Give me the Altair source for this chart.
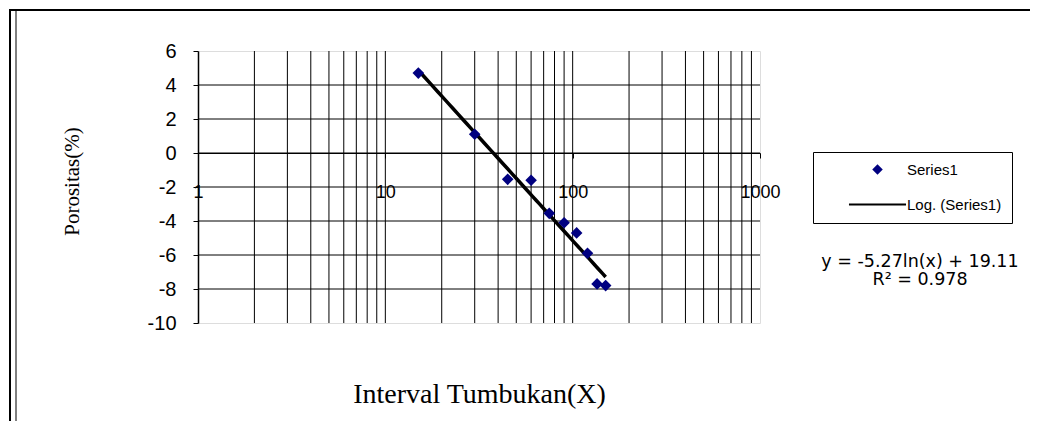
import altair as alt
import pandas as pd

# ---- data ----
interval_x = [15, 30, 45, 60, 75, 90, 105, 120, 135, 150]
porositas_y = [4.7, 1.1, -1.55, -1.6, -3.55, -4.1, -4.7, -5.9, -7.7, -7.8]
series_names = ["Series1", "Log. (Series1)"]
x_tick_values = [1, 10, 100, 1000]
x_grid_values = [2, 3, 4, 5, 6, 7, 8, 9, 10, 20, 30, 40, 50, 60, 70, 80, 90,
                 100, 200, 300, 400, 500, 600, 700, 800, 900]
y_tick_values = [-10, -8, -6, -4, -2, 0, 2, 4, 6]
y_grid_values = [-8, -6, -4, -2, 0, 2, 4]
equation_lines = ["y = -5.27ln(x) + 19.11", "R\u00b2 = 0.978"]

# ---- layout ----
W, H = 562, 272
Y_MIN, Y_MAX = -10, 6
axis_offset = -H * (0 - Y_MIN) / (Y_MAX - Y_MIN)  # x axis crosses at y = 0

df = pd.DataFrame({"x": interval_x, "y": porositas_y, "series": series_names[0]})
xg = pd.DataFrame({"x": x_grid_values})
yg = pd.DataFrame({"y": y_grid_values})
eq = pd.DataFrame({"eq": ["\n".join(equation_lines)]})

xscale = alt.Scale(type="log", domain=[1, 1000])
yscale = alt.Scale(domain=[Y_MIN, Y_MAX], nice=False, zero=False)

SANS = "Liberation Sans"
SERIF = "Liberation Serif"

x_axis = alt.Axis(
    values=x_tick_values, labelExpr="'' + datum.value", grid=False,
    offset=axis_offset,
    domainColor="black", domainWidth=1, tickColor="black", tickSize=5,
    labelFont=SANS, labelFontSize=18, labelColor="black", labelPadding=25,
    labelFlush=False, labelOverlap=False,
    title="Interval Tumbukan(X)", titleFont=SERIF, titleFontSize=28,
    titleFontWeight="normal", titleColor="black",
    titleX=W / 2, titleY=241, titleBaseline="middle", titleAlign="center",
)
y_axis = alt.Axis(
    values=y_tick_values, labelExpr="'' + datum.value", grid=False,
    domainColor="black", domainWidth=1.5, tickColor="black", tickSize=5,
    labelFont=SANS, labelFontSize=20, labelColor="black", labelPadding=17,
    title="Porositas(%)", titleFont=SERIF, titleFontSize=21,
    titleFontWeight="normal", titleColor="black",
    titleX=-126, titleY=H / 2 - 6, titleAngle=270,
    titleBaseline="middle", titleAlign="center",
)

line_path = "M-5.44,-0.2L5.44,-0.2L5.44,0.2L-5.44,0.2Z"
pad_right = "\u00a0" * 9

leg = alt.Legend(
    orient="none", legendX=615, legendY=101, title=None,
    padding=10, strokeColor="black", fillColor="white",
    labelFont=SANS, labelFontSize=15, labelColor="black",
    symbolSize=110, symbolStrokeWidth=0, symbolOffset=47, labelOffset=22,
    rowPadding=19, labelExpr="datum.label + '" + pad_right + "'",
)

vgrid = alt.Chart(xg).mark_rule(color="black", strokeWidth=1).encode(
    x=alt.X("x:Q", scale=xscale, axis=x_axis)
)
hgrid = alt.Chart(yg).mark_rule(color="black", strokeWidth=1).encode(
    y=alt.Y("y:Q", scale=yscale, axis=y_axis)
)

base = alt.Chart(df)

points = base.mark_point(filled=True, size=135, opacity=1).encode(
    x=alt.X("x:Q", scale=xscale, axis=x_axis),
    y=alt.Y("y:Q", scale=yscale, axis=y_axis),
    color=alt.Color("series:N", scale=alt.Scale(domain=series_names,
                                                range=["#000080", "black"]),
                    legend=leg),
    shape=alt.Shape("series:N", scale=alt.Scale(domain=series_names,
                                                range=["diamond", line_path]),
                    legend=leg),
)

trend = base.transform_regression("x", "y", method="log").mark_line(
    color="black", strokeWidth=3.5
).encode(
    x=alt.X("x:Q", scale=xscale, axis=x_axis),
    y=alt.Y("y:Q", scale=yscale, axis=y_axis),
)

eq_text = alt.Chart(eq).mark_text(
    font="DejaVu Sans", fontSize=17.5, color="black", align="center",
    baseline="middle", lineBreak="\n", lineHeight=18,
).encode(x=alt.value(722), y=alt.value(211), text="eq:N")

frame_top = alt.Chart(eq).mark_rule(color="black", strokeWidth=2).encode(
    x=alt.value(-189), x2=alt.value(840), y=alt.value(-41))
frame_left = alt.Chart(eq).mark_rule(color="black", strokeWidth=2).encode(
    x=alt.value(-188), y=alt.value(-41), y2=alt.value(380))
frame_left2 = alt.Chart(eq).mark_rule(color="#555555", strokeWidth=1.5).encode(
    x=alt.value(-182), y=alt.value(-40), y2=alt.value(380))

chart = alt.layer(
    vgrid, hgrid, trend, points, eq_text, frame_top, frame_left, frame_left2
).properties(
    width=W, height=H,
    padding={"left": 190, "top": 43, "right": 270, "bottom": 98},
    autosize=alt.AutoSizeParams(type="none"),
).configure_view(
    stroke="#808080", strokeWidth=2
).configure(background="white")

chart.save("out.html", embed_options={"renderer": "svg", "actions": False})
